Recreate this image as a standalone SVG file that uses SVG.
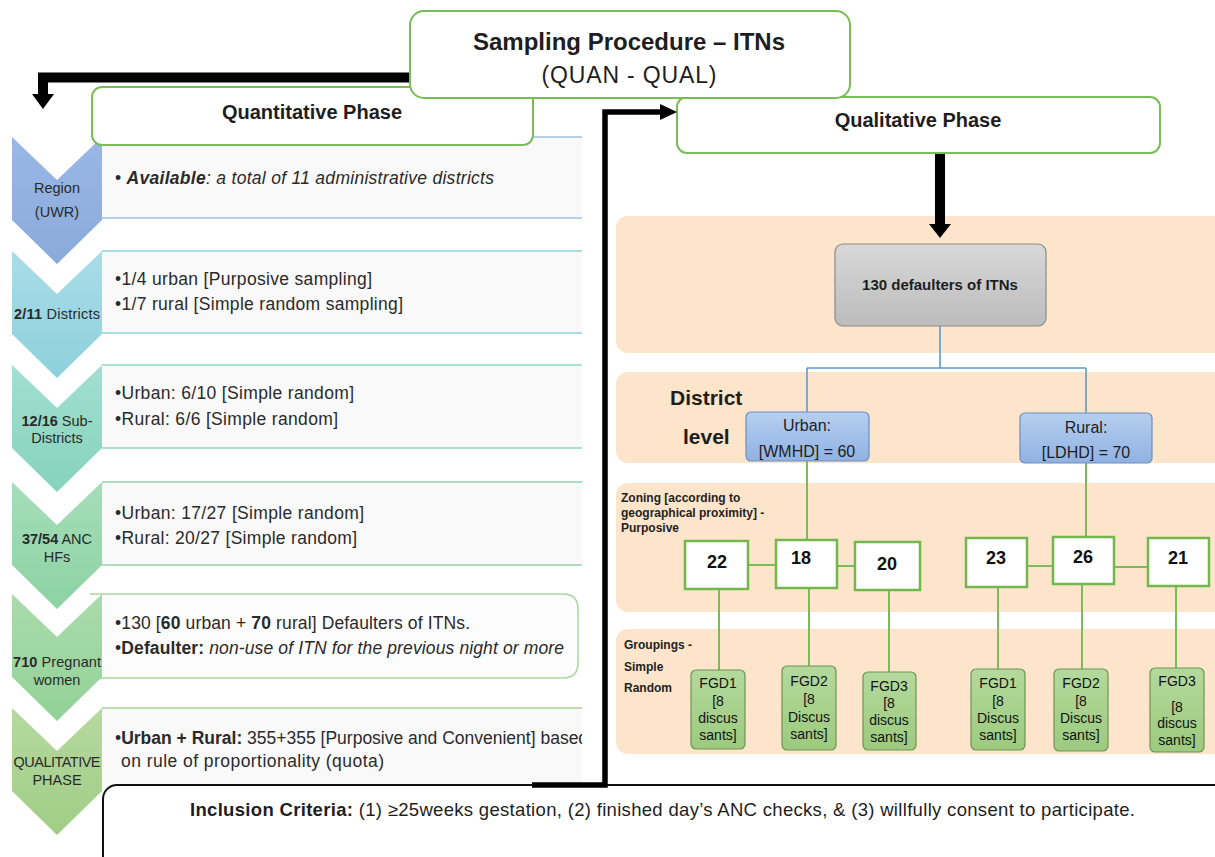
<svg xmlns="http://www.w3.org/2000/svg" width="1215" height="857" viewBox="0 0 1215 857">
<defs>
  <linearGradient id="gC1" x1="0" y1="0" x2="0" y2="1"><stop offset="0" stop-color="#9ab8e6"/><stop offset="1" stop-color="#8aaadc"/></linearGradient>
  <linearGradient id="gC2" x1="0" y1="0" x2="0" y2="1"><stop offset="0" stop-color="#a9dce8"/><stop offset="1" stop-color="#8dd1dc"/></linearGradient>
  <linearGradient id="gC3" x1="0" y1="0" x2="0" y2="1"><stop offset="0" stop-color="#a2dfd2"/><stop offset="1" stop-color="#86d3ba"/></linearGradient>
  <linearGradient id="gC4" x1="0" y1="0" x2="0" y2="1"><stop offset="0" stop-color="#a6deba"/><stop offset="1" stop-color="#8bd2a2"/></linearGradient>
  <linearGradient id="gC5" x1="0" y1="0" x2="0" y2="1"><stop offset="0" stop-color="#aadcab"/><stop offset="1" stop-color="#92d197"/></linearGradient>
  <linearGradient id="gC6" x1="0" y1="0" x2="0" y2="1"><stop offset="0" stop-color="#b6d99f"/><stop offset="1" stop-color="#a0cd86"/></linearGradient>
  <linearGradient id="gGray" x1="0" y1="0" x2="0" y2="1"><stop offset="0" stop-color="#d8d8d8"/><stop offset="1" stop-color="#bcbcbc"/></linearGradient>
  <linearGradient id="gBlue" x1="0" y1="0" x2="0" y2="1"><stop offset="0" stop-color="#b6cff0"/><stop offset="1" stop-color="#90b2e2"/></linearGradient>
  <linearGradient id="gFGD" x1="0" y1="0" x2="0" y2="1"><stop offset="0" stop-color="#b4d99c"/><stop offset="1" stop-color="#9cca7e"/></linearGradient>
  <clipPath id="row6clip"><rect x="102" y="700" width="480" height="90"/></clipPath>
</defs>
<style>
  text { font-family: "Liberation Sans", Arial, sans-serif; fill: #1e1e1e; }
  .b { font-weight: bold; }
  .i { font-style: italic; }
  .row { font-size: 17.5px; fill: #2a2a2a; }
  .chl { font-size: 14.5px; fill: #2a2a2a; text-anchor: middle; }
  .gbox { fill: #ffffff; stroke: #78bd55; stroke-width: 2; }
  .peach { fill: #fde5cb; }
  .num { fill: #ffffff; stroke: #72b64c; stroke-width: 2.5; }
  .numt { font-size: 18px; font-weight: bold; text-anchor: middle; fill: #111; }
  .fgd { fill: url(#gFGD); stroke: #6c9456; stroke-width: 1.2; }
  .fgdt { font-size: 14px; text-anchor: middle; fill: #111; }
  .gl { stroke: #7cbb58; stroke-width: 2; fill: none; }
  .bl { stroke: #5b9bd5; stroke-width: 1.6; fill: none; }
  .blk { stroke: #000; fill: none; }
  .lbl { font-size: 12px; font-weight: bold; fill: #222; }
</style>
<rect x="0" y="0" width="1215" height="857" fill="#ffffff"/>

<!-- Left rows -->
<g id="row1">
  <rect x="102" y="137" width="480" height="81" fill="#f9f9f9"/>
  <line x1="102" y1="137" x2="582" y2="137" stroke="#9dc3e6" stroke-width="1.5"/>
  <line x1="102" y1="218" x2="582" y2="218" stroke="#9dc3e6" stroke-width="1.5"/>
  <text class="row" x="115" y="184" textLength="379"><tspan>• </tspan><tspan class="b i">Available</tspan><tspan class="i">: a total of 11 administrative districts</tspan></text>
</g>
<g id="row2">
  <rect x="102" y="251" width="480" height="82" fill="#f9f9f9"/>
  <line x1="102" y1="251" x2="582" y2="251" stroke="#8dd3df" stroke-width="1.5"/>
  <line x1="102" y1="333" x2="582" y2="333" stroke="#8dd3df" stroke-width="1.5"/>
  <text class="row" x="115" y="285" textLength="257">•1/4 urban [Purposive sampling]</text>
  <text class="row" x="115" y="310" textLength="288">•1/7 rural [Simple random sampling]</text>
</g>
<g id="row3">
  <rect x="102" y="365" width="480" height="83" fill="#f9f9f9"/>
  <line x1="102" y1="365" x2="582" y2="365" stroke="#8cd8c0" stroke-width="1.5"/>
  <line x1="102" y1="448" x2="582" y2="448" stroke="#8cd8c0" stroke-width="1.5"/>
  <text class="row" x="115" y="399" textLength="239">•Urban: 6/10 [Simple random]</text>
  <text class="row" x="115" y="425" textLength="223">•Rural: 6/6 [Simple random]</text>
</g>
<g id="row4">
  <rect x="102" y="482" width="480" height="83" fill="#f9f9f9"/>
  <line x1="102" y1="482" x2="582" y2="482" stroke="#8fd6a6" stroke-width="1.5"/>
  <line x1="102" y1="565" x2="582" y2="565" stroke="#8fd6a6" stroke-width="1.5"/>
  <text class="row" x="115" y="519" textLength="249">•Urban: 17/27 [Simple random]</text>
  <text class="row" x="115" y="544" textLength="242">•Rural: 20/27 [Simple random]</text>
</g>
<g id="row5">
  <path d="M90,594 H563 Q578,594 578,609 V663 Q578,678 563,678 H90" fill="#fcfcfc" stroke="#a9d69c" stroke-width="1.5"/>
  <text class="row" x="115" y="629" textLength="355">•130 [<tspan class="b">60</tspan> urban + <tspan class="b">70</tspan> rural] Defaulters of ITNs.</text>
  <text class="row" x="115" y="654" textLength="449">•<tspan class="b">Defaulter:</tspan> <tspan class="i">non-use of ITN for the previous night or more</tspan></text>
</g>
<g id="row6">
  <rect x="102" y="708" width="480" height="82" fill="#f9f9f9"/>
  <line x1="102" y1="708" x2="582" y2="708" stroke="#a9d490" stroke-width="1.5"/>
  <g clip-path="url(#row6clip)">
    <text class="row" x="115" y="744">•<tspan class="b">Urban + Rural:</tspan> 355+355 [Purposive and Convenient] based</text>
  </g>
  <text class="row" x="121" y="767" textLength="263">on rule of proportionality (quota)</text>
</g>

<!-- Chevrons -->
<g id="chev1">
  <path d="M12,137 L57,180 L102,137 L102,220 L57,264 L12,220 Z" fill="url(#gC1)"/>
  <text class="chl" x="57" y="193">Region</text>
  <text class="chl" x="57" y="217">(UWR)</text>
</g>
<g id="chev2">
  <path d="M12,251 L57,294 L102,251 L102,334 L57,378 L12,334 Z" fill="url(#gC2)"/>
  <text class="chl" x="57" y="319" textLength="86"><tspan class="b">2/11</tspan> Districts</text>
</g>
<g id="chev3">
  <path d="M12,365 L57,408 L102,365 L102,448 L57,492 L12,448 Z" fill="url(#gC3)"/>
  <text class="chl" x="57" y="426"><tspan class="b">12/16</tspan> Sub-</text>
  <text class="chl" x="57" y="443">Districts</text>
</g>
<g id="chev4">
  <path d="M12,482 L57,525 L102,482 L102,565 L57,609 L12,565 Z" fill="url(#gC4)"/>
  <text class="chl" x="57" y="544"><tspan class="b">37/54</tspan> ANC</text>
  <text class="chl" x="57" y="562">HFs</text>
</g>
<g id="chev5">
  <path d="M12,594 L57,637 L102,594 L102,677 L57,721 L12,677 Z" fill="url(#gC5)"/>
  <text class="chl" x="57" y="667" textLength="88"><tspan class="b">710</tspan> Pregnant</text>
  <text class="chl" x="57" y="685">women</text>
</g>
<g id="chev6">
  <path d="M12,708 L57,751 L102,708 L102,791 L57,835 L12,791 Z" fill="url(#gC6)"/>
  <text class="chl" x="57" y="767" textLength="87">QUALITATIVE</text>
  <text class="chl" x="57" y="785">PHASE</text>
</g>

<!-- Right side bands -->
<g id="bands">
  <rect class="peach" x="616" y="216" width="612" height="137" rx="12"/>
  <rect class="peach" x="616" y="372" width="612" height="91" rx="12"/>
  <rect class="peach" x="616" y="483" width="612" height="129" rx="12"/>
  <rect class="peach" x="616" y="629" width="612" height="125" rx="12"/>
</g>

<!-- Connectors -->
<g id="connectors">
  <path class="bl" d="M940,326 V368 M807,368 H1086 M807,368 V412 M1086,368 V413"/>
  <path class="gl" d="M807,461 V540 M1086,463 V537"/>
  <path class="gl" d="M748,565 H776 M837,566 H855 M1027,566 H1053 M1114,567 H1148"/>
  <path class="gl" d="M719,589 V670 M809,588 V666 M889,590 V672 M998,587 V669 M1082,584 V669 M1176,586 V668"/>
  <path class="blk" d="M412,77.5 H43 V95" stroke-width="10"/>
  <polygon points="32,94 54,94 43,109" fill="#000"/>
  <line x1="940" y1="153" x2="940" y2="225" stroke="#000" stroke-width="10"/>
  <polygon points="929,224 951,224 940,238" fill="#000"/>
</g>

<!-- Title / phase boxes -->
<g id="quantPhase">
  <rect class="gbox" x="92" y="87" width="441" height="58" rx="10"/>
  <text x="312" y="119" font-size="20" class="b" text-anchor="middle">Quantitative Phase</text>
</g>
<g id="qualPhase">
  <rect class="gbox" x="677" y="97" width="483" height="56" rx="10"/>
  <text x="918" y="127" font-size="20" class="b" text-anchor="middle">Qualitative Phase</text>
</g>
<g id="title">
  <rect class="gbox" x="410" y="11" width="440" height="87" rx="14"/>
  <text x="629" y="50" font-size="24" class="b" text-anchor="middle">Sampling Procedure – ITNs</text>
  <text x="629" y="83" font-size="23" text-anchor="middle" textLength="175">(QUAN - QUAL)</text>
</g>

<g id="defaulters">
  <rect x="835" y="244" width="211" height="82" rx="8" fill="url(#gGray)" stroke="#8a8a8a" stroke-width="1.2"/>
  <text x="940" y="290" font-size="15" class="b" text-anchor="middle">130 defaulters of ITNs</text>
</g>

<g id="districtLevel">
  <text x="670" y="405" font-size="21" class="b">District</text>
  <text x="683" y="444" font-size="21" class="b">level</text>
</g>
<g id="urban">
  <rect x="746" y="412" width="123" height="49" rx="5" fill="url(#gBlue)" stroke="#6c8ebf" stroke-width="1.2"/>
  <text x="807" y="431" font-size="16" text-anchor="middle">Urban:</text>
  <text x="807" y="457" font-size="16" text-anchor="middle">[WMHD] = 60</text>
</g>
<g id="rural">
  <rect x="1020" y="413" width="132" height="50" rx="5" fill="url(#gBlue)" stroke="#6c8ebf" stroke-width="1.2"/>
  <text x="1086" y="433" font-size="16" text-anchor="middle">Rural:</text>
  <text x="1086" y="458" font-size="16" text-anchor="middle">[LDHD] = 70</text>
</g>

<g id="zoningLabel">
  <text class="lbl" x="621" y="502">Zoning [according to</text>
  <text class="lbl" x="621" y="517">geographical proximity] -</text>
  <text class="lbl" x="621" y="532">Purposive</text>
</g>
<g id="groupingsLabel">
  <text class="lbl" x="624" y="649">Groupings -</text>
  <text class="lbl" x="624" y="671">Simple</text>
  <text class="lbl" x="624" y="692">Random</text>
</g>

<g id="z22"><rect class="num" x="685" y="541" width="63" height="48"/><text class="numt" x="717" y="568">22</text></g>
<g id="z18"><rect class="num" x="776" y="540" width="61" height="48"/><text class="numt" x="801" y="564">18</text></g>
<g id="z20"><rect class="num" x="855" y="542" width="65" height="48"/><text class="numt" x="887" y="570">20</text></g>
<g id="z23"><rect class="num" x="966" y="538" width="61" height="49"/><text class="numt" x="996" y="564">23</text></g>
<g id="z26"><rect class="num" x="1053" y="537" width="61" height="47"/><text class="numt" x="1083" y="563">26</text></g>
<g id="z21"><rect class="num" x="1148" y="538" width="61" height="48"/><text class="numt" x="1178" y="564">21</text></g>

<g id="fgd1u">
  <rect class="fgd" x="691" y="670" width="54" height="79" rx="5"/>
  <text class="fgdt" x="718" y="688">FGD1</text><text class="fgdt" x="718" y="706">[8</text><text class="fgdt" x="718" y="723">discus</text><text class="fgdt" x="718" y="740">sants]</text>
</g>
<g id="fgd2u">
  <rect class="fgd" x="782" y="666" width="54" height="84" rx="5"/>
  <text class="fgdt" x="809" y="686">FGD2</text><text class="fgdt" x="809" y="704">[8</text><text class="fgdt" x="809" y="722">Discus</text><text class="fgdt" x="809" y="739">sants]</text>
</g>
<g id="fgd3u">
  <rect class="fgd" x="863" y="672" width="53" height="78" rx="5"/>
  <text class="fgdt" x="889" y="691">FGD3</text><text class="fgdt" x="889" y="708">[8</text><text class="fgdt" x="889" y="725">discus</text><text class="fgdt" x="889" y="742">sants]</text>
</g>
<g id="fgd1r">
  <rect class="fgd" x="971" y="669" width="54" height="81" rx="5"/>
  <text class="fgdt" x="998" y="688">FGD1</text><text class="fgdt" x="998" y="706">[8</text><text class="fgdt" x="998" y="723">Discus</text><text class="fgdt" x="998" y="740">sants]</text>
</g>
<g id="fgd2r">
  <rect class="fgd" x="1054" y="669" width="54" height="82" rx="5"/>
  <text class="fgdt" x="1081" y="688">FGD2</text><text class="fgdt" x="1081" y="706">[8</text><text class="fgdt" x="1081" y="723">Discus</text><text class="fgdt" x="1081" y="740">sants]</text>
</g>
<g id="fgd3r">
  <rect class="fgd" x="1150" y="668" width="54" height="84" rx="5"/>
  <text class="fgdt" x="1177" y="686">FGD3</text><text class="fgdt" x="1177" y="712">[8</text><text class="fgdt" x="1177" y="728">discus</text><text class="fgdt" x="1177" y="745">sants]</text>
</g>

<g id="inclusion">
  <rect x="103" y="785" width="1125" height="95" rx="14" fill="#ffffff" stroke="#111" stroke-width="2"/>
  <text x="190" y="816" font-size="18.5" textLength="945"><tspan class="b">Inclusion Criteria:</tspan> (1) ≥25weeks gestation, (2) finished day’s ANC checks, &amp; (3) willfully consent to participate.</text>
</g>

<g id="connector-qual">
  <path class="blk" d="M532,785 H605 V112 H662" stroke-width="5.5"/>
  <polygon points="660,104 677,112 660,120" fill="#000"/>
</g>
</svg>
